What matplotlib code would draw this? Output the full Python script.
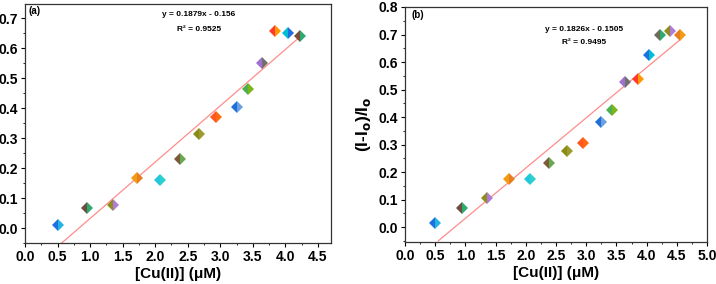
import matplotlib
matplotlib.use("Agg")
import matplotlib.pyplot as plt
import numpy as np
from matplotlib.ticker import MultipleLocator

# ─── DATA ─────────────────────────────────────────────────────────────────────

x_a = [0.50, 0.95, 1.35, 1.72, 2.07, 2.38, 2.67, 2.94, 3.25, 3.42, 3.64, 3.84, 4.04, 4.22]
y_a = [0.010, 0.068, 0.077, 0.167, 0.161, 0.229, 0.315, 0.369, 0.404, 0.465, 0.549, 0.656, 0.651, 0.640]
slope_a, icpt_a, r2_a = 0.1879, -0.156, 0.9525

x_b = [0.50, 0.95, 1.35, 1.73, 2.07, 2.38, 2.68, 2.94, 3.25, 3.42, 3.65, 3.85, 4.04, 4.22, 4.39, 4.55]
y_b = [0.015, 0.071, 0.106, 0.176, 0.174, 0.233, 0.276, 0.305, 0.381, 0.425, 0.528, 0.540, 0.624, 0.698, 0.713, 0.700]
slope_b, icpt_b, r2_b = 0.1826, -0.1505, 0.9495

# two-tone diamond colours (left half, right half)
cols_a = [("#1e6fe0", "#1fb5e0"), ("#6d4c41", "#2eaa6e"), ("#8d8d20", "#b07ad8"),
          ("#f39c12", "#e67e22"), ("#26c6da", "#2bd0d0"), ("#7b5a3a", "#6aa84f"),
          ("#8b8b1a", "#9c9c2c"), ("#ff5722", "#ff6a10"), ("#1e6fd9", "#6aa0e0"),
          ("#4caf50", "#7cb518"), ("#a070d0", "#707070"), ("#ff3b30", "#ff9800"),
          ("#00bcd4", "#1e70e0"), ("#7a4b3a", "#2eaa6e")]
cols_b = [("#1e6fe0", "#1fb5e0"), ("#6d4c41", "#2eaa6e"), ("#8d8d20", "#b07ad8"),
          ("#f39c12", "#e67e22"), ("#26c6da", "#2bd0d0"), ("#7b5a3a", "#6aa84f"),
          ("#8b8b1a", "#9c9c2c"), ("#ff5722", "#ff6a10"), ("#1e6fd9", "#6aa0e0"),
          ("#4caf50", "#7cb518"), ("#a070d0", "#707070"), ("#ff3b30", "#ff9800"),
          ("#1e70e0", "#00bcd4"), ("#6d6d5a", "#2eaa6e"), ("#8d8d20", "#b07ad8"),
          ("#e67e22", "#f39c12")]

LINE_C = "#ff8c8c"
plt.rcParams["font.family"] = ["Liberation Sans", "DejaVu Sans"]
plt.rcParams["font.weight"] = "bold"


def panel(ax, xs, ys, cols, slope, icpt, r2, label, eq_pos, r2_pos, lab_pos):
    x0 = (-0.05 - icpt) / slope
    xl = np.array([x0, xs[-1]])
    ax.plot(xl, slope * xl + icpt, color=LINE_C, lw=0.9, zorder=1)
    for x, y, (c1, c2) in zip(xs, ys, cols):
        ax.plot(x, y, marker="D", ms=6, fillstyle="left", markerfacecolor=c1,
                markerfacecoloralt=c2, markeredgewidth=0, ls="none", zorder=3)
    ax.text(*eq_pos, f"y = {slope}x - {abs(icpt)}", transform=ax.transAxes,
            ha="center", va="center", fontsize=6, fontweight="bold")
    ax.text(*r2_pos, f"R\u00b2 = {r2}", transform=ax.transAxes,
            ha="center", va="center", fontsize=6, fontweight="bold")
    ax.text(*lab_pos, label, transform=ax.transAxes, ha="left", va="center",
            fontsize=7, fontweight="bold")
    ax.set_xlabel("[Cu(II)] (\u03bcM)", fontsize=11, fontweight="bold", labelpad=2)
    ax.xaxis.set_major_locator(MultipleLocator(0.5))
    ax.xaxis.set_minor_locator(MultipleLocator(0.25))
    ax.yaxis.set_major_locator(MultipleLocator(0.1))
    ax.yaxis.set_minor_locator(MultipleLocator(0.05))
    ax.xaxis.set_major_formatter(matplotlib.ticker.FormatStrFormatter("%.1f"))
    ax.yaxis.set_major_formatter(matplotlib.ticker.FormatStrFormatter("%.1f"))
    ax.tick_params(which="major", direction="out", length=3, width=0.8,
                   labelsize=10, pad=2)
    ax.tick_params(which="minor", direction="out", length=1.5, width=0.6)
    for lab in ax.get_xticklabels() + ax.get_yticklabels():
        lab.set_fontweight("bold")
    for s in ax.spines.values():
        s.set_linewidth(0.9)
        s.set_color("#333333")


fig = plt.figure(figsize=(7.16, 2.84), dpi=100)
ax1 = fig.add_axes([25 / 716, 41 / 284, 306 / 716, 239 / 284])
ax2 = fig.add_axes([405 / 716, 42 / 284, 302 / 716, 235 / 284])

panel(ax1, x_a, y_a, cols_a, slope_a, icpt_a, r2_a, "(a)",
      (0.569, 0.955), (0.569, 0.895), (0.012, 0.97))
ax1.set_xlim(0, 4.7)
ax1.set_ylim(-0.05, 0.747)

panel(ax2, x_b, y_b, cols_b, slope_b, icpt_b, r2_b, "(b)",
      (0.593, 0.906), (0.593, 0.847), (0.02, 0.965))
ax2.set_xlim(0, 5.0)
ax2.set_ylim(-0.054, 0.8)
ax2.set_ylabel("(I-I$_\\mathbf{o}$)/I$_\\mathbf{o}$", fontsize=12.5, fontweight="bold", labelpad=4)

fig.savefig("out.png", dpi=100)
